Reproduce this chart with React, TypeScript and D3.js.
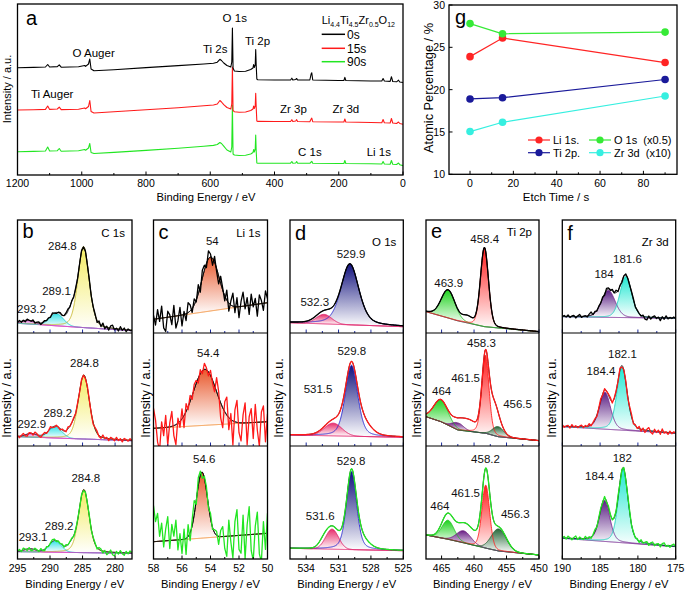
import React from 'react';
import * as d3 from 'd3';

const FONT = '"Liberation Sans", Arial, Helvetica, sans-serif';

type P2 = [number, number];
type Pk = [number, number, number, number]; // center eV, height, fwhm, lorentz fraction
type Lbl = [string, number, number]; // text, BE, intensity

// ================= Panel a : survey spectra [BE (eV), intensity (a.u.)] =================
const survey0s: P2[] = [
  [1200, 107.3], [1150, 107.6], [1113, 108], [1106, 110.5], [1100, 108], [1076, 108.4], [1070, 110.2], [1064, 107.8],
  [1010, 108.2], [991, 109.5], [988, 108.6], [979, 111], [975, 116], [971, 106], [962, 104.2], [900, 105.3], [800, 107.4],
  [700, 109.4], [620, 111], [590, 111.7], [578, 112.8], [570, 115.7], [565, 114.5], [558, 112], [548, 109.5], [536, 108],
  [533, 113], [531, 147], [529, 107], [525, 104], [510, 103.5], [490, 103.8], [474, 105.5], [467, 107], [465, 110.5],
  [463, 107.5], [460, 110], [458.5, 125.5], [457, 110], [455, 96], [452, 95.2], [400, 95], [350, 95], [346, 96.8],
  [343, 95], [334, 95.5], [331, 96.5], [328, 95], [290, 95], [286, 101], [284, 102.3], [281, 95], [200, 94.5], [184, 94.5],
  [181, 97.7], [178, 94.5], [100, 94], [66, 94], [62, 96.5], [58, 94], [40, 93.6], [36, 98.3], [32, 93.5], [20, 93.2],
  [14, 94.8], [10, 93], [0, 92.5],
];
const survey15s: P2[] = [
  [1200, 65], [1150, 65.3], [1113, 65.6], [1106, 69], [1100, 65.6], [1076, 66], [1070, 67.8], [1064, 65.4], [1010, 65.8],
  [991, 67], [988, 66.3], [979, 68.5], [975, 74.5], [971, 63.5], [962, 62], [900, 63.2], [800, 65.2], [700, 67.3], [620, 69.2],
  [590, 70], [578, 71], [570, 74.5], [565, 73], [558, 70.3], [548, 67.5], [536, 66], [533, 71], [531, 108], [529, 64.5],
  [525, 63.3], [510, 62.8], [490, 63], [474, 64.5], [467, 66], [465, 69], [463, 66.5], [460, 69], [458.5, 81.7], [457, 68],
  [455, 54], [452, 53.6], [400, 53.5], [350, 53.5], [346, 55.3], [343, 53.5], [334, 54], [331, 55.3], [328, 53.5], [290, 53.3],
  [286, 56], [284, 56.8], [281, 53.3], [200, 53], [184, 53], [181, 56], [178, 53], [100, 52.5], [66, 52.3], [62, 55.5],
  [58, 52.3], [40, 52], [36, 56.5], [32, 52], [20, 51.5], [14, 53], [10, 51.5], [0, 50.7],
];
const survey90s: P2[] = [
  [1200, 23.3], [1150, 23.6], [1113, 24], [1106, 28], [1100, 24], [1076, 24.3], [1070, 26.5], [1064, 23.8], [1010, 24.2],
  [991, 25.5], [988, 24.8], [979, 27], [975, 31.5], [971, 22.5], [962, 21.5], [900, 22.6], [800, 24.6], [700, 26.8],
  [620, 28.8], [590, 29.6], [578, 30.5], [570, 32.5], [565, 31.5], [558, 28.8], [548, 25], [536, 23], [533, 28], [531, 70],
  [529, 21], [525, 20], [510, 19.5], [490, 19.7], [474, 21], [467, 22.5], [465, 25.5], [463, 23], [460, 26], [458.5, 40],
  [457, 24], [455, 12], [452, 11.8], [400, 11.8], [350, 11.8], [346, 13.5], [343, 11.8], [334, 12], [331, 13.5], [328, 11.8],
  [290, 11.7], [286, 13], [284, 13.7], [281, 11.7], [200, 11.5], [184, 11.5], [181, 14.5], [178, 11.5], [100, 11.2],
  [66, 11], [62, 13.5], [58, 11], [40, 10.8], [36, 14.5], [32, 10.8], [20, 10.5], [14, 12], [10, 10.3], [0, 9.3],
];
const surveyNames = ['0s', '15s', '90s'];
const surveyMajor = [1200, 1000, 800, 600, 400, 200, 0];
const surveyMinor = [1100, 900, 700, 500, 300, 100];
const surveyNotes: Lbl[] = [
  ['O 1s', 523.7, 153], ['Ti 2s', 584.5, 121.7], ['Ti 2p', 453, 130], ['O Auger', 963, 118.3],
  ['Ti Auger', 1092, 76.7], ['Zr 3p', 341, 61.7], ['Zr 3d', 178, 61.7], ['C 1s', 290, 19.3], ['Li 1s', 75.4, 19.3],
];

// ================= Panel g : atomic percentage vs etch time =================
const etchTime = [0, 15, 90];
const li1sPct = [23.9, 26.1, 23.2];
const o1sPct = [27.8, 26.6, 26.8];
const ti2pPct = [18.9, 19.05, 21.2];
const zr3dPct = [15.05, 16.15, 19.25];
const gNames = ['Li 1s.', 'O 1s  (x0.5)', 'Ti 2p.', 'Zr 3d  (x10)'];
const gYTicks = [10, 15, 20, 25, 30];
const gXTicks = [0, 20, 40, 60, 80];
const gXMinor = [10, 30, 50, 70, 90];

// ================= Panels b–f : high resolution spectra (0s, 15s, 90s) =================
// ---- C 1s
const c1sBg: P2[][] = [
  [[295, 9.7], [277.4, 2.3]],
  [[295, 9.3], [277.4, 5.3]],
  [[295, 7.3], [277.4, 5.7]],
];
const c1sPeaks: Pk[][] = [
  [[284.85, 81, 2.05, 0.3], [289.0, 12, 2.5, 0], [293.4, 3.5, 2.2, 0]],
  [[284.8, 64, 2.0, 0.3], [289.2, 11, 2.4, 0], [292.9, 3.5, 2.0, 0]],
  [[284.8, 63, 1.9, 0.3], [289.2, 11, 2.2, 0], [293.1, 3, 2.0, 0]],
];
const c1sExtra: Pk[][] = [[[286.7, 12, 1.3, 0]], [[286.7, 7, 1.3, 0]], [[286.7, 6, 1.3, 0]]];
const c1sNoise: number[][] = [
  [0, 1.5, -1, 0.5, -1.5, 1, 0, -0.5, 1.5, -1, 0.5, 1, -1.5, 0, 1, -0.5, 0.5, -1, 1.5, 0, -1, 0.5, 1, -0.5, 0, 1.5, 2, -1, 0.5, -1,
    1, -0.5, 0, 1, -1, 0.5, -0.5, 1, -1, 0.5, 1.5, -2, 2.5, -1.5, 3, -2, 1, -2.5, 2, 3, -1.5, 0.5, -2, 2.5, -1, 1.5, -2, 1, -0.5, 0],
  [1, -1.5, 0.5, 2, -1, -2, 1, 0.5, -1.5, 2, 1, -1, -2, 0.5, 1.5, -1, 0, 2, -0.5, -1, 1, 0, -1.5, 1, 0.5, -1, 2, -0.5, 0, 1,
    -1, 0.5, -0.5, 1, 0, -1, 1.5, 0.5, -1, -2, 1.5, 2, -1, -1.5, 2.5, -0.5, 1, -2, 1.5, 0.5, -1.5, 2, -1, 1, -2, 1.5, 0.5, -1, 1.5, -0.5],
  [0, 1.5, -1, 2, 0.5, -1.5, 1, -2, -1, 1.5, 0.5, -1, 2, -0.5, -1.5, 1, -1, 0.5, 2, 1.5, -1, 0.5, -0.5, 1, -1, 1.5, -0.5, 0.5, 1, -1,
    0, 0.5, -0.5, 1, -1, 0.5, 0, 1, -1.5, 0.5, 1, -1.5, 2, 1.5, -2, 1, -3, -1, 2, -2.5, -3.5, 1, -1.5, 2, -1, -2.5, 1.5, -1, 2, 0.5],
];
const c1sLabels: Lbl[][] = [
  [['284.8', 288.1, 83], ['289.1', 289.0, 38], ['293.2', 292.85, 20.3]],
  [['284.8', 284.7, 79.3], ['289.2', 288.8, 29.3], ['292.9', 292.8, 17.7]],
  [['284.8', 284.5, 77.3], ['289.2', 288.6, 29], ['293.1', 292.6, 18]],
];

// ---- Li 1s
const li1sBg: P2[][] = [
  [[58, 13.7], [50, 30.3]],
  [[58, 17.7], [50, 24.3]],
  [[58, 17.3], [50, 25.7]],
];
const li1sPeaks: Pk[][] = [[[54.0, 54, 1.4, 0]], [[54.4, 56, 1.9, 0]], [[54.6, 66, 0.9, 0]]];
const li1sExtra: Pk[][] = [[], [], []];
const li1sNoise: number[][] = [
  [4, -6, 9, -3, 12, -10, -14, 6, 2, -8, 11, -12, -5, 8, -11, 3, -7, 10, 6, -4, 6, -2, 9, -6, 8, 5, -4, 8, 3, -7, 6, -3, -8, 7, 2,
    -5, 10, -8, 4, 13, -6, 9, -11, 5, 14, -3, 8, -9, 11, -2, 6, -12, 9, 3, -7, 12, 4],
  [20, 8, -14, -22, 6, -8, 12, -18, 4, 15, -10, -20, 5, -6, 10, -12, 8, -3, 6, -4, 5, 3, -5, 4, -3, 6, 2, -4, 5, -3, -6,
    14, 6, -15, -20, 10, 18, -12, 6, -24, 12, 22, -10, -18, 8, 20, -22, 6, 14, -16, 18, -8, -24, 10, 16, -20, 8],
  [36, 20, 28, 5, 18, -6, 12, 24, -8, 16, 4, 20, -10, 6, -14, 10, -16, 12, -8, 6, 14, -4, 8, 4, -6, 2, 4, -3, 5, -2, 3, 4, -8, 6,
    10, -12, -20, 16, -6, -22, 14, 26, -14, -18, 20, -24, 10, 28, -16, -26, 8, 22, -20, -28, 12, -16, 20],
];
const li1sLabels: Lbl[][] = [[['54', 53.87, 88]], [['54.4', 54.16, 89.3]], [['54.6', 54.44, 96]]];

// ---- O 1s
const o1sBg: P2[][] = [
  [[535.5, 10.3], [525, 6.3]],
  [[535.5, 11], [525, 8.7]],
  [[535.5, 10.7], [525, 8.3]],
];
const o1sPeaks: Pk[][] = [
  [[529.95, 61, 1.95, 0.4], [532.35, 9.5, 1.7, 0]],
  [[529.8, 71, 1.35, 0.35], [531.5, 12.7, 1.9, 0]],
  [[529.8, 78, 1.1, 0.35], [531.6, 20, 1.4, 0]],
];
const o1sExtra: Pk[][] = [[], [[528.6, 10, 1.6, 0.3]], [[532.4, 5, 1.0, 0], [528.8, 8, 1.5, 0.3]]];
const o1sLabels: Lbl[][] = [
  [['529.9', 529.84, 74.7], ['532.3', 533.2, 27]],
  [['529.8', 529.77, 91], ['531.5', 532.9, 52.7]],
  [['529.8', 529.84, 94], ['531.6', 532.7, 39]],
];

// ---- Ti 2p  (peaks: Ti 2p1/2, 461.5 comp, Ti 2p3/2, 456.x comp)
const ti2pBg: P2[][] = [
  [[467.4, 21.3], [464, 15], [462.6, 12.3], [458.4, 6.3], [450, 1.3]],
  [[467.4, 29.3], [465.1, 24.3], [462.5, 16], [458.2, 12.7], [456.3, 9.3], [450, 5.3]],
  [[467.4, 24], [464, 19.7], [461.7, 16.3], [458.1, 10.7], [456.2, 8], [450, 4]],
];
const ti2pPeaks: Pk[][] = [
  [[464.0, 28, 2.5, 0.1], [461.5, 0, 2, 0], [458.4, 79, 1.45, 0.15], [456.5, 0, 2, 0]],
  [[465.1, 22, 2.6, 0.1], [462.5, 7, 2.0, 0], [458.25, 78, 1.3, 0.2], [456.3, 10, 2.0, 0]],
  [[464.0, 19, 2.2, 0.1], [461.6, 12, 2.6, 0], [458.2, 63, 1.4, 0.15], [456.2, 22, 2.7, 0]],
];
const ti2pExtra: Pk[][] = [
  [[461.0, 6, 1.8, 0]],
  [[457.0, 22, 1.6, 0], [460.8, 10, 2.6, 0]],
  [[460.2, 9, 4.5, 0], [464.3, 5, 2.0, 0], [458.1, 7, 1.3, 0]],
];
const ti2pLabels: Lbl[][] = [
  [['463.9', 463.9, 46.3], ['458.4', 458.37, 89.7]],
  [['458.3', 458.87, 99.3], ['461.5', 461.3, 64.3], ['464', 465.0, 51], ['456.5', 453.3, 37.7]],
  [['458.2', 458.24, 95.7], ['461.5', 461.3, 62.3], ['464', 465.26, 49], ['456.3', 453.65, 40.7]],
];

// ---- Zr 3d
const zr3dBg: P2[][] = [
  [[190, 16.3], [175, 14.7]],
  [[190, 19.3], [175, 12.7]],
  [[190, 20.7], [175, 12.3]],
];
const zr3dPeaks: Pk[][] = [
  [[183.9, 27, 2.1, 0.2], [181.6, 41, 1.8, 0.2]],
  [[184.35, 37, 1.7, 0.3], [182.1, 63, 1.6, 0.3]],
  [[184.4, 41, 1.6, 0.3], [181.95, 74, 1.5, 0.3]],
];
const zr3dExtra: Pk[][] = [[], [], []];
const zr3dNoise: number[][] = [
  [0, 1, -0.5, 1.5, -1, 0.5, 1, -1.5, 0.5, 2, -1, 0, 0.5, -1, 1.5, 3, -0.5, 1, -1, 0.5, -0.5, 1, -1.5, 2, 1, -1, 1.5, -0.5, 2.5, -1,
    1, -1.5, 0.5, 1, -0.5, -1, 0.5, 1, -1, 0.5, 0, -1, 1, -2.5, -3, 1, -2, 0.5, 1.5, -1, 0.5, -3, 1, -1.5, 2, -1, 0.5, -0.5, 1, -0.5],
  [1.5, -1, 0.5, 1, -1.5, 2, -0.5, 1, -1, 0.5, 1.5, -1, 1, -0.5, 2, -1, 0.5, 1, -1.5, 0.5, 2, -1, 1.5, -0.5, 1, 2, -1.5, 1, 0.5, -1,
    2, -1.5, 0.5, 1, -2, 1, 2.5, -1.5, 1, -1, 2, -2, 1.5, -2.5, 1, 3, -1.5, -3, 2, -1, 1.5, -2.5, 3, -1, 0.5, -2, 1.5, -1, 1, -0.5],
  [0.5, 1.5, -1, 2, 0.5, -1.5, 1, 2.5, -1, 1.5, 0, -1, 2, -0.5, 1, -1.5, 0.5, 2, -1, 1, 1.5, -0.5, 2, -1, 1.5, 0.5, -1, 1, -0.5, 2,
    -1.5, 0.5, 1, -1, 0.5, 1.5, -1, 0.5, -0.5, 1, -1.5, 2, -1, 0.5, 1.5, -2, 1, 2, -1.5, 0.5, 1, -2, 1.5, 2.5, -1, 0.5, -1.5, 1, 2, -0.5],
];
const zr3dLabels: Lbl[][] = [
  [['184', 184.48, 54.7], ['181.6', 181.38, 70.3]],
  [['182.1', 182.04, 87.7], ['184.4', 184.88, 71]],
  [['182', 182.06, 97.3], ['184.4', 185.08, 79]],
];

// ================= layout / style =================
const ROW_TOP = [220, 333, 446];
const ROW_H = 113;
const RAW_COLORS = ['#000000', '#ff1a1a', '#22e622'];

const panels = [
  {
    key: 'b', letter: 'b', title: 'C 1s', titleY: 237, letterY: 238.3, ylabX: 11,
    x0: 17.5, x1: 132, domain: [295, 277.4], major: [295, 290, 285, 280], minor: [292.5, 287.5, 282.5],
    fills: ['#f3ec62', '#3fe3e8', '#e070d4'], outlines: ['#c8b830', '#20c8d0', '#d040c0'], bgColor: '#e040c8',
    bg: c1sBg, peaks: c1sPeaks, extra: c1sExtra, noise: c1sNoise, labels: c1sLabels,
  },
  {
    key: 'c', letter: 'c', title: 'Li 1s', titleY: 236.8, letterY: 238.7, ylabX: 149.5,
    x0: 153.5, x1: 267.5, domain: [58, 50], major: [58, 56, 54, 52, 50], minor: [57, 55, 53, 51],
    fills: ['#e8582c'], outlines: ['#000000'], bgColor: '#f08a30',
    bg: li1sBg, peaks: li1sPeaks, extra: li1sExtra, noise: li1sNoise, labels: li1sLabels,
  },
  {
    key: 'd', letter: 'd', title: 'O 1s', titleY: 246, letterY: 240, ylabX: 283,
    x0: 290, x1: 403.3, domain: [535.5, 525], major: [534, 531, 528, 525], minor: [532.5, 529.5, 526.5],
    fills: ['#12127e', '#e8306c'], outlines: ['#2828d0', '#e0206a'], bgColor: '#e0206a',
    bg: o1sBg, peaks: o1sPeaks, extra: o1sExtra, noise: [[], [], []], labels: o1sLabels,
  },
  {
    key: 'e', letter: 'e', title: 'Ti 2p', titleY: 236, letterY: 238.3, ylabX: 421,
    x0: 426, x1: 539, domain: [467.4, 450], major: [465, 460, 455, 450], minor: [462.5, 457.5, 452.5],
    fills: ['#1fd21f', '#6a1f86', '#ff1c1c', '#2a6a3c'], outlines: ['#20c020', '#702080', '#ff2020', '#226030'],
    bgColor: '#222222',
    bg: ti2pBg, peaks: ti2pPeaks, extra: ti2pExtra, noise: [[], [], []], labels: ti2pLabels,
  },
  {
    key: 'f', letter: 'f', title: 'Zr 3d', titleY: 246, letterY: 239.5, ylabX: 556,
    x0: 562.3, x1: 675.7, domain: [190, 175], major: [190, 185, 180, 175], minor: [187.5, 182.5, 177.5],
    fills: ['#5a1f84', '#22e8d2'], outlines: ['#7a2a92', '#20d0c0'], bgColor: '#7a2a92',
    bg: zr3dBg, peaks: zr3dPeaks, extra: zr3dExtra, noise: zr3dNoise, labels: zr3dLabels,
  },
];

function pv(E: number, p: Pk) {
  const [c, h, w, eta] = p;
  if (h === 0) return 0;
  const t = (E - c) / w;
  return h * ((1 - eta) * Math.exp(-4 * Math.LN2 * t * t) + eta / (1 + 4 * t * t));
}

function XpsPanel({ cfg }: { cfg: any }) {
  const xs = d3.scaleLinear().domain(cfg.domain).range([cfg.x0, cfg.x1]);
  const [d0, d1] = cfg.domain;
  const grid = d3.range(501).map((i) => d0 + ((d1 - d0) * i) / 500);
  const gradients: any[] = [];
  const rows = cfg.bg.map((bgPts: P2[], si: number) => {
    const top = ROW_TOP[si];
    const ys = d3.scaleLinear().domain([0, ROW_H]).range([top + ROW_H, top]);
    const bg = d3.scaleLinear().domain(bgPts.map((p) => p[0])).range(bgPts.map((p) => p[1])).clamp(true);
    const peaks: Pk[] = cfg.peaks[si];
    const all: Pk[] = [...peaks, ...cfg.extra[si]];
    const env = (E: number) => bg(E) + d3.sum(all, (p) => pv(E, p));
    const clipId = `clip-${cfg.key}-${si}`;
    const fills = peaks.map((p, pi) => {
      if (p[1] === 0) return null;
      const gid = `grad-${cfg.key}-${si}-${pi}`;
      gradients.push(
        <linearGradient key={gid} id={gid} x1="0" y1="0" x2="0" y2="1">
          <stop offset="0" stopColor={cfg.fills[pi]} />
          <stop offset="1" stopColor="#ffffff" />
        </linearGradient>
      );
      const area = d3
        .area<number>()
        .defined((E) => pv(E, p) > 0.25)
        .x((E) => xs(E))
        .y0((E) => ys(bg(E)))
        .y1((E) => ys(bg(E) + pv(E, p)));
      return <path key={gid} d={area(grid) || ''} fill={`url(#${gid})`} stroke="none" />;
    });
    const outlines = peaks.map((p, pi) => {
      if (p[1] === 0) return null;
      const ln = d3.line<number>().x((E) => xs(E)).y((E) => ys(bg(E) + pv(E, p)));
      return <path key={`o${pi}`} d={ln(grid) || ''} fill="none" stroke={cfg.outlines[pi]} strokeWidth={0.9} />;
    });
    const bgLine = d3.line<number>().x((E) => xs(E)).y((E) => ys(bg(E)))(grid) || '';
    const envLine = d3.line<number>().x((E) => xs(E)).y((E) => ys(env(E)))(grid) || '';
    const noise: number[] = cfg.noise[si] || [];
    let rawLine = envLine;
    if (noise.length > 1) {
      const n = noise.length;
      rawLine =
        d3
          .line<number>()
          .x((v, i) => xs(d0 + ((d1 - d0) * i) / (n - 1)))
          .y((v, i) => ys(env(d0 + ((d1 - d0) * i) / (n - 1)) + v))(noise) || '';
    }
    const isBottom = si === 2;
    const tickColor = isBottom ? '#000' : '#1a2a9a';
    return (
      <g key={si}>
        <clipPath id={clipId}>
          <rect x={cfg.x0} y={top} width={cfg.x1 - cfg.x0} height={ROW_H} />
        </clipPath>
        <g clipPath={`url(#${clipId})`}>
          {fills}
          <path d={bgLine} fill="none" stroke={cfg.bgColor} strokeWidth={1} />
          {outlines}
          <path d={envLine} fill="none" stroke="#000" strokeWidth={0.9} />
          <path d={rawLine} fill="none" stroke={RAW_COLORS[si]} strokeWidth={1.3} strokeLinejoin="round" />
        </g>
        {cfg.major.map((t: number) => (
          <line key={`M${t}`} x1={xs(t)} x2={xs(t)} y1={top + ROW_H} y2={top + ROW_H - 3.5} stroke={tickColor} strokeWidth={1} />
        ))}
        {cfg.minor.map((t: number) => (
          <line key={`m${t}`} x1={xs(t)} x2={xs(t)} y1={top + ROW_H} y2={top + ROW_H - 2} stroke={tickColor} strokeWidth={1} />
        ))}
        {cfg.labels[si].map((l: Lbl, li: number) => (
          <text key={`l${li}`} x={xs(l[1])} y={ys(l[2])} fontSize={11.5} textAnchor="middle" fill="#111">
            {l[0]}
          </text>
        ))}
      </g>
    );
  });
  const midX = (cfg.x0 + cfg.x1) / 2;
  return (
    <g>
      <defs>{gradients}</defs>
      {rows}
      <line x1={cfg.x0} x2={cfg.x1} y1={333} y2={333} stroke="#000" strokeWidth={1.2} />
      <line x1={cfg.x0} x2={cfg.x1} y1={446} y2={446} stroke="#000" strokeWidth={1.2} />
      <rect x={cfg.x0} y={220} width={cfg.x1 - cfg.x0} height={339} fill="none" stroke="#000" strokeWidth={1.3} />
      <text x={cfg.x0 + 5} y={cfg.letterY} fontSize={20}>{cfg.letter}</text>
      <text x={cfg.x1 - 7} y={cfg.titleY} fontSize={11.5} textAnchor="end">{cfg.title}</text>
      {cfg.major.map((t: number) => (
        <text key={`t${t}`} x={xs(t)} y={572} fontSize={10.5} textAnchor="middle">{t}</text>
      ))}
      <text x={midX} y={587.5} fontSize={11.2} textAnchor="middle">Binding Energy / eV</text>
      <text transform={`translate(${cfg.ylabX},398) rotate(-90)`} fontSize={12.8} textAnchor="middle">Intensity / a.u.</text>
    </g>
  );
}

function SurveyPanel() {
  const x = d3.scaleLinear().domain([1200, 0]).range([17.5, 403]);
  const y = d3.scaleLinear().domain([0, 171]).range([175, 4]);
  const line = d3.line<P2>().x((d) => x(d[0])).y((d) => y(d[1]));
  const series = [survey0s, survey15s, survey90s];
  const legendY = [34.3, 48.3, 61.7];
  return (
    <g>
      <clipPath id="clip-a">
        <rect x={17.5} y={4} width={385.5} height={171} />
      </clipPath>
      <g clipPath="url(#clip-a)">
        {[2, 1, 0].map((i) => (
          <path key={i} d={line(series[i]) || ''} fill="none" stroke={RAW_COLORS[i]} strokeWidth={1.1} strokeLinejoin="round" />
        ))}
      </g>
      <rect x={17.5} y={4} width={385.5} height={171} fill="none" stroke="#000" strokeWidth={1.3} />
      {surveyMajor.map((t) => (
        <g key={t}>
          <line x1={x(t)} x2={x(t)} y1={175} y2={171.5} stroke="#000" />
          <text x={x(t)} y={186.5} fontSize={10.5} textAnchor="middle">{t}</text>
        </g>
      ))}
      {surveyMinor.map((t) => (
        <line key={t} x1={x(t)} x2={x(t)} y1={175} y2={173} stroke="#000" />
      ))}
      {surveyNotes.map((n) => (
        <text key={n[0]} x={x(n[1])} y={y(n[2])} fontSize={11.5} textAnchor="middle">{n[0]}</text>
      ))}
      <text x={26} y={25} fontSize={20}>a</text>
      <text x={206} y={200.5} fontSize={11.2} textAnchor="middle">Binding Energy / eV</text>
      <text transform="translate(11,89) rotate(-90)" fontSize={11} textAnchor="middle">Intensity / a.u.</text>
      <text x={321.7} y={24} fontSize={11}>
        Li<tspan fontSize={7} dy={2.5}>4.4</tspan>
        <tspan dy={-2.5}>Ti</tspan><tspan fontSize={7} dy={2.5}>4.5</tspan>
        <tspan dy={-2.5}>Zr</tspan><tspan fontSize={7} dy={2.5}>0.5</tspan>
        <tspan dy={-2.5}>O</tspan><tspan fontSize={7} dy={2.5}>12</tspan>
      </text>
      {surveyNames.map((nm, i) => (
        <g key={nm}>
          <line x1={321.7} x2={345} y1={legendY[i]} y2={legendY[i]} stroke={RAW_COLORS[i]} strokeWidth={1.5} />
          <text x={347} y={legendY[i] + 4.2} fontSize={12}>{nm}</text>
        </g>
      ))}
    </g>
  );
}

function EtchPanel() {
  const x = d3.scaleLinear().domain([-9.7, 95.5]).range([449, 677]);
  const y = d3.scaleLinear().domain([10, 30]).range([174.3, 5]);
  const series = [
    { name: gNames[0], vals: li1sPct, color: '#ff2424', lx: 528, ly: 140 },
    { name: gNames[2], vals: ti2pPct, color: '#1a1a9a', lx: 528, ly: 152.7 },
    { name: gNames[3], vals: zr3dPct, color: '#36efe0', lx: 589, ly: 152.7 },
    { name: gNames[1], vals: o1sPct, color: '#36ea36', lx: 589, ly: 140 },
  ];
  const line = d3.line<number>().x((v, i) => x(etchTime[i])).y((v) => y(v));
  return (
    <g>
      <rect x={449} y={5} width={228} height={169.3} fill="none" stroke="#000" strokeWidth={1.3} />
      {gYTicks.map((t) => (
        <g key={t}>
          <line x1={449} x2={452.5} y1={y(t)} y2={y(t)} stroke="#000" />
          <text x={445} y={y(t) + 4} fontSize={10.5} textAnchor="end">{t}</text>
        </g>
      ))}
      {gXTicks.map((t) => (
        <g key={t}>
          <line x1={x(t)} x2={x(t)} y1={174.3} y2={170.8} stroke="#000" />
          <text x={x(t)} y={187} fontSize={10.5} textAnchor="middle">{t}</text>
        </g>
      ))}
      {gXMinor.map((t) => (
        <line key={t} x1={x(t)} x2={x(t)} y1={174.3} y2={172.3} stroke="#000" />
      ))}
      {series.map((s) => (
        <g key={s.name}>
          <path d={line(s.vals) || ''} fill="none" stroke={s.color} strokeWidth={1.2} />
          {s.vals.map((v, i) => (
            <circle key={i} cx={x(etchTime[i])} cy={y(v)} r={3.8} fill={s.color} />
          ))}
        </g>
      ))}
      {series.map((s) => (
        <g key={`lg${s.name}`}>
          <line x1={s.lx} x2={s.lx + 22} y1={s.ly} y2={s.ly} stroke={s.color} strokeWidth={1.2} />
          <circle cx={s.lx + 11} cy={s.ly} r={3.6} fill={s.color} />
          <text x={s.lx + 25} y={s.ly + 4} fontSize={11} style={{ whiteSpace: 'pre' }}>{s.name}</text>
        </g>
      ))}
      <text x={455} y={24} fontSize={20}>g</text>
      <text x={556} y={201} fontSize={11.5} textAnchor="middle">Etch Time / s</text>
      <text transform="translate(433,88) rotate(-90)" fontSize={12.8} textAnchor="middle">Atomic Percentage / %</text>
    </g>
  );
}

export default function App() {
  return (
    <svg
      width={685}
      height={592}
      viewBox="0 0 685 592"
      style={{ position: 'absolute', left: 0, top: 0, background: '#fff' }}
      fontFamily={FONT}
    >
      <rect width={685} height={592} fill="#fff" />
      <SurveyPanel />
      <EtchPanel />
      {panels.map((p) => (
        <XpsPanel key={p.key} cfg={p} />
      ))}
    </svg>
  );
}
